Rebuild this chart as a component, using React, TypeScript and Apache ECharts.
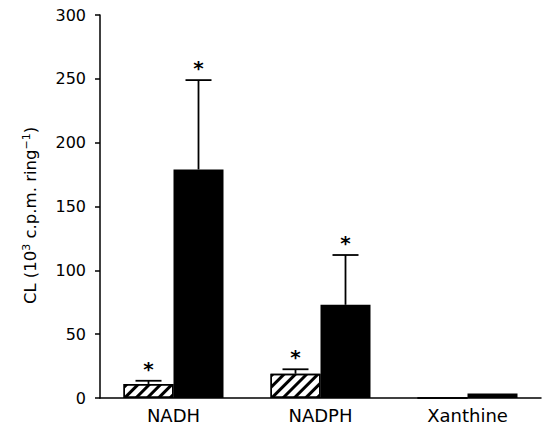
import React, { useEffect, useRef } from "react";
import * as echarts from "echarts";

const categories = ["NADH", "NADPH", "Xanthine"];
const hatchedValues = [11, 19, 0];
const solidValues = [179, 73, 3.5];
const hatchedErrorTop: (number | null)[] = [13.5, 22.5, null];
const solidErrorTop: (number | null)[] = [249, 112, null];
const hatchedStar = [true, true, false];
const solidStar = [true, true, false];
const yTicks = [0, 50, 100, 150, 200, 250, 300];

const BAR_W = 50;
const FONT = "'DejaVu Sans', 'Liberation Sans', Arial, sans-serif";

export default function App() {
  const ref = useRef<HTMLDivElement>(null);
  useEffect(() => {
    document.body.style.margin = "0";
    if (!ref.current) return;
    const chart = echarts.init(ref.current, null, { renderer: "svg" });

    const errData: any[] = [];
    categories.forEach((_, i) => {
      if (hatchedErrorTop[i] != null)
        errData.push([i, hatchedValues[i], hatchedErrorTop[i], -1, hatchedStar[i] ? 1 : 0]);
      if (solidErrorTop[i] != null)
        errData.push([i, solidValues[i], solidErrorTop[i], 1, solidStar[i] ? 1 : 0]);
    });

    chart.setOption({
      animation: false,
      grid: { left: 100, right: 8, top: 15, bottom: 29, containLabel: false },
      xAxis: {
        type: "category",
        data: categories,
        axisLine: { lineStyle: { color: "#000", width: 1.5 } },
        axisTick: { show: false },
        axisLabel: { color: "#000", fontSize: 18, fontFamily: FONT, margin: 8 },
      },
      yAxis: {
        type: "value",
        min: yTicks[0],
        max: yTicks[yTicks.length - 1],
        interval: 50,
        axisLine: { show: true, lineStyle: { color: "#000", width: 1.5 } },
        axisTick: { show: true, length: 5, lineStyle: { color: "#000", width: 1.5 } },
        splitLine: { show: false },
        axisLabel: { color: "#000", fontSize: 16, fontFamily: FONT, margin: 14 },
        name: "CL (10{sup|3} c.p.m. ring{sup|\u22121})",
        nameLocation: "middle",
        nameGap: 60,
        nameTextStyle: {
          color: "#000",
          fontSize: 16.5,
          fontFamily: FONT,
          lineHeight: 19,
          padding: [0, 18, 0, 0],
          rich: {
            sup: { fontSize: 11, fontFamily: FONT, color: "#000", verticalAlign: "top", lineHeight: 11 },
          },
        },
      },
      series: [
        {
          type: "bar",
          data: hatchedValues,
          barWidth: BAR_W,
          barGap: "0%",
          itemStyle: {
            color: "#fff",
            borderColor: "#000",
            borderWidth: 1.5,
            decal: {
              symbol: "rect",
              symbolSize: 1,
              dashArrayX: [[1, 0]],
              dashArrayY: [2.5, 5],
              rotation: -Math.PI / 4,
              color: "#000",
              backgroundColor: "#fff",
            },
          },
        },
        {
          type: "bar",
          data: solidValues,
          barWidth: BAR_W,
          itemStyle: { color: "#000" },
        },
        {
          type: "custom",
          data: errData,
          z: 10,
          renderItem: (params: any, api: any) => {
            const idx = api.value(0);
            const base = api.value(1);
            const top = api.value(2);
            const side = api.value(3);
            const star = api.value(4);
            const c = api.coord([idx, base]);
            const t = api.coord([idx, top]);
            const x = c[0] + side * BAR_W / 2;
            const children: any[] = [
              { type: "line", shape: { x1: x, y1: c[1], x2: x, y2: t[1] }, style: { stroke: "#000", lineWidth: 1.8 } },
              { type: "line", shape: { x1: x - 13, y1: t[1], x2: x + 13, y2: t[1] }, style: { stroke: "#000", lineWidth: 1.8 } },
            ];
            if (star) {
              children.push({
                type: "text",
                style: {
                  text: "*",
                  x: x,
                  y: t[1] - 2,
                  align: "center",
                  verticalAlign: "bottom",
                  fontSize: 20,
                  fontWeight: "bold",
                  fontFamily: FONT,
                  fill: "#000",
                },
              });
            }
            return { type: "group", children };
          },
        },
      ],
    });
    return () => chart.dispose();
  }, []);
  return <div ref={ref} style={{ width: 549, height: 427 }} />;
}
